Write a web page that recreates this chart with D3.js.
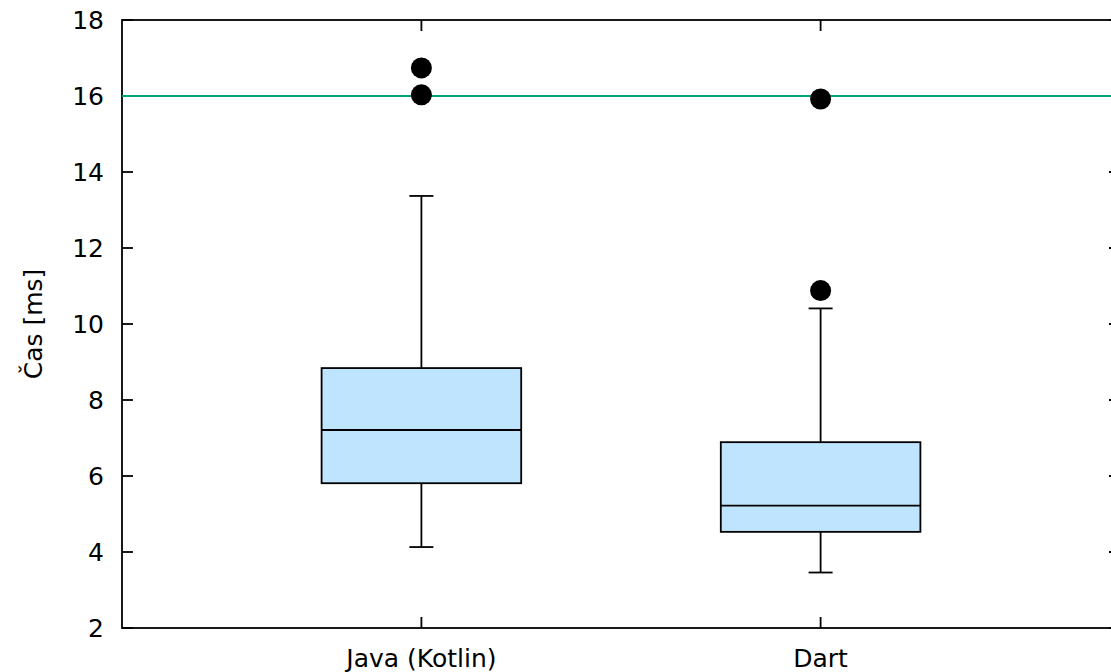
<!DOCTYPE html>
<meta charset="utf-8">
<style>
  body { margin: 0; background: #fff; }
  svg text { font-family: 'DejaVu Sans', sans-serif; font-size: 25px; fill: #000; }
</style>
<body>
<div id="chart"></div>
<script src="https://d3js.org/d3.v7.min.js"></script>
<script>
// data
var categories = ["Java (Kotlin)", "Dart"];
var positions = [1, 2];
var whiskerLow = [4.13, 3.46];
var q1 = [5.81, 4.53];
var median = [7.21, 5.22];
var q3 = [8.84, 6.89];
var whiskerHigh = [13.37, 10.41];
var outliers = [[16.74, 16.03], [15.92, 10.88]];
var limitLine = 16;
var yTicks = [2, 4, 6, 8, 10, 12, 14, 16, 18];

(function() {
var W = 1111, H = 672;
var pLeft = 122, pRight = 1120, pTop = 20, pBottom = 628;
var sw = 1.8;

var svg = d3.select("#chart").append("svg")
    .attr("width", W)
    .attr("height", H);

var x = d3.scaleLinear().domain([0.25, 2.75]).range([pLeft, pRight]);
var y = d3.scaleLinear().domain([2, 18]).range([pBottom, pTop]);

var boxHalf = (x(1.25) - x(0.75)) / 2; // box width 0.5
var capHalf = 12;
var tickLen = 11;

// border + ticks
svg.append("rect")
    .attr("x", pLeft).attr("y", pTop)
    .attr("width", pRight - pLeft).attr("height", pBottom - pTop)
    .attr("fill", "none").attr("stroke", "#000").attr("stroke-width", sw);

yTicks.forEach(function(t) {
  svg.append("line").attr("x1", pLeft).attr("x2", pLeft + tickLen)
      .attr("y1", y(t)).attr("y2", y(t)).attr("stroke", "#000").attr("stroke-width", sw);
  svg.append("line").attr("x1", pRight - tickLen).attr("x2", pRight)
      .attr("y1", y(t)).attr("y2", y(t)).attr("stroke", "#000").attr("stroke-width", sw);
  svg.append("text").attr("x", 104).attr("y", y(t)).attr("dy", "0.36em")
      .attr("text-anchor", "end").text(t);
});

positions.forEach(function(p, i) {
  svg.append("line").attr("x1", x(p)).attr("x2", x(p))
      .attr("y1", pBottom).attr("y2", pBottom - tickLen).attr("stroke", "#000").attr("stroke-width", sw);
  svg.append("line").attr("x1", x(p)).attr("x2", x(p))
      .attr("y1", pTop).attr("y2", pTop + tickLen).attr("stroke", "#000").attr("stroke-width", sw);
  svg.append("text").attr("x", x(p)).attr("y", 667)
      .attr("text-anchor", "middle").text(categories[i]);
});

// y label
svg.append("text")
    .attr("transform", "translate(33," + ((pTop + pBottom) / 2) + ") rotate(-90)")
    .attr("dy", "0.36em")
    .attr("text-anchor", "middle")
    .text("Čas [ms]");

// boxes
var g = svg.append("g");
positions.forEach(function(p, i) {
  var cx = x(p);
  // whiskers
  g.append("line").attr("x1", cx).attr("x2", cx)
      .attr("y1", y(whiskerLow[i])).attr("y2", y(q1[i]))
      .attr("stroke", "#000").attr("stroke-width", sw);
  g.append("line").attr("x1", cx).attr("x2", cx)
      .attr("y1", y(q3[i])).attr("y2", y(whiskerHigh[i]))
      .attr("stroke", "#000").attr("stroke-width", sw);
  [whiskerLow[i], whiskerHigh[i]].forEach(function(v) {
    g.append("line").attr("x1", cx - capHalf).attr("x2", cx + capHalf)
        .attr("y1", y(v)).attr("y2", y(v))
        .attr("stroke", "#000").attr("stroke-width", sw);
  });
  g.append("rect")
      .attr("x", cx - boxHalf).attr("y", y(q3[i]))
      .attr("width", boxHalf * 2).attr("height", y(q1[i]) - y(q3[i]))
      .attr("fill", "#bfe4fe").attr("stroke", "#000").attr("stroke-width", sw);
  g.append("line").attr("x1", cx - boxHalf).attr("x2", cx + boxHalf)
      .attr("y1", y(median[i])).attr("y2", y(median[i]))
      .attr("stroke", "#000").attr("stroke-width", sw);
});

// limit line
svg.append("line")
    .attr("x1", pLeft).attr("x2", pRight)
    .attr("y1", y(limitLine)).attr("y2", y(limitLine))
    .attr("stroke", "#00a377").attr("stroke-width", sw);

// outliers
positions.forEach(function(p, i) {
  outliers[i].forEach(function(v) {
    svg.append("circle").attr("cx", x(p)).attr("cy", y(v)).attr("r", 10.5).attr("fill", "#000");
  });
});
})();
</script>
</body>
